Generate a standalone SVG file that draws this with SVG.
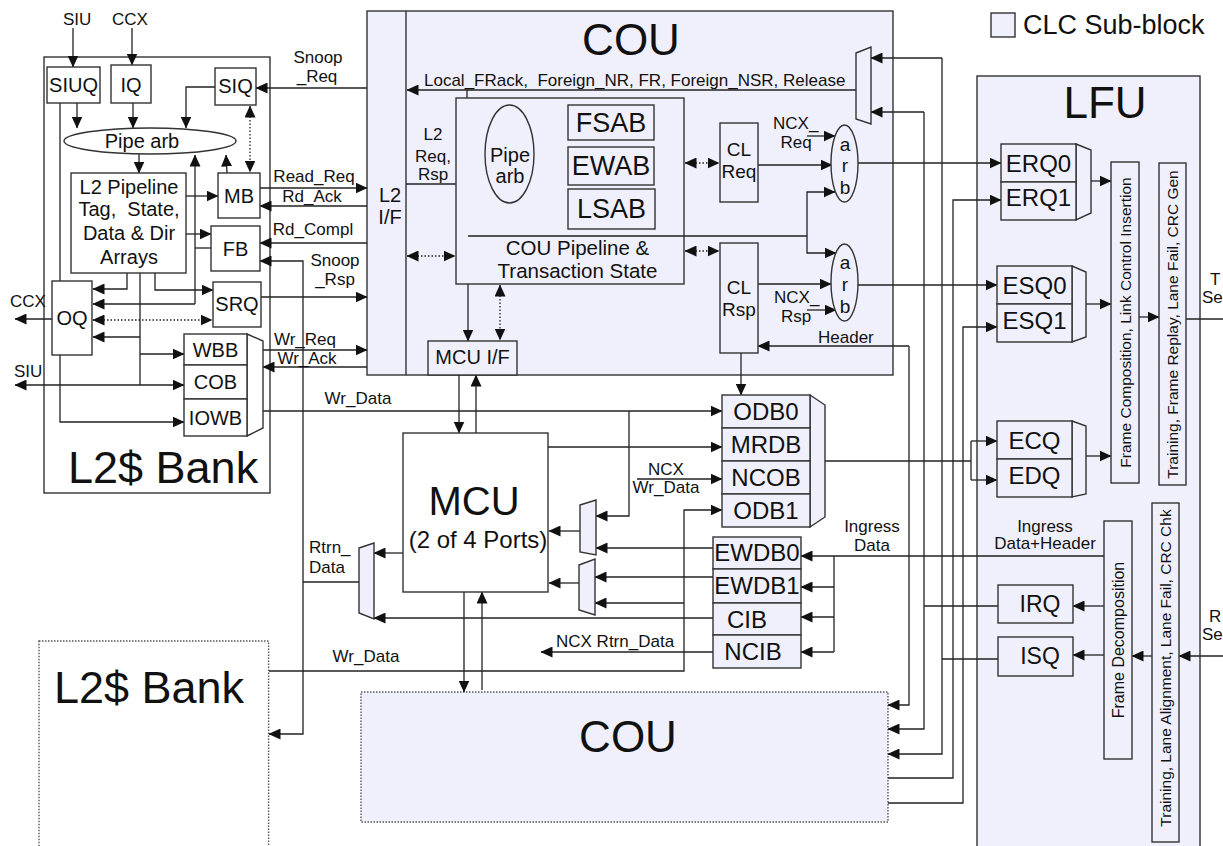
<svg xmlns="http://www.w3.org/2000/svg" width="1223" height="846" viewBox="0 0 1223 846">
<defs>
<style>
.b{fill:#fff;stroke:#333;stroke-width:1.4}
.l{fill:#f0f0fc;stroke:#333;stroke-width:1.4}
.dot{stroke-dasharray:1.5 1.5;stroke:#555}
.c{fill:none;stroke:#222;stroke-width:1.3}
.ar{marker-end:url(#a)}
.ab{marker-start:url(#a);marker-end:url(#a)}
.dt{stroke-dasharray:1.5 2}
text{font-family:"Liberation Sans",Arial,sans-serif;fill:#111}
.f17{font-size:17px}
.f19{font-size:19px}
.f20{font-size:20px}
.f24{font-size:24px}
.f27{font-size:27px}
.f44{font-size:44px}
.m{text-anchor:middle}
</style>
<marker id="a" viewBox="0 0 12 11" markerWidth="12" markerHeight="11" refX="11.5" refY="5.5" orient="auto-start-reverse" markerUnits="userSpaceOnUse"><path d="M0,0L12,5.5L0,11z" fill="#111"/></marker>
</defs>

<!-- containers -->
<g id="l2bank">
<rect class="b" x="44" y="57" width="226" height="436"/>
<text class="f44" x="68" y="483" style="font-size:45px">L2$ Bank</text>
</g>
<g id="l2bank2">
<rect class="b dot" x="39" y="641" width="229.6" height="230"/>
<text class="m" x="149" y="703" style="font-size:45px">L2$ Bank</text>
</g>
<g id="cou">
<rect class="l" x="367" y="11" width="526" height="364"/>
<line x1="406" y1="11" x2="406" y2="375" stroke="#333" stroke-width="1.4"/>
<text class="f44 m" x="631" y="55">COU</text>
<text class="f20 m" x="390" y="202">L2</text>
<text class="f20 m" x="390" y="224">I/F</text>
</g>
<g id="cou2">
<rect class="l dot" x="361" y="692" width="527" height="130"/>
<text class="f44 m" x="628" y="752">COU</text>
</g>
<g id="lfu">
<rect class="l" x="977" y="76" width="223" height="800"/>
<text class="f44 m" x="1105" y="118">LFU</text>
</g>
<g id="legend">
<rect class="l" x="991" y="13" width="24" height="24"/>
<text class="f27" x="1023" y="34">CLC Sub-block</text>
</g>

<!-- connectors -->
<g id="connectors" class="c">
<path class="ar" d="M73,28V67"/>
<path class="ar" d="M132,28V65"/>
<path class="ar" d="M77,103V128"/>
<path class="ar" d="M133,103V128"/>
<path class="ar" d="M215,87H186V128"/>
<path class="ab dt" d="M250,106V172"/>
<path class="ar" d="M227,173L226,155"/>
<path d="M211,248H195"/>
<path class="ar" d="M195,304V155"/>
<path class="ar" d="M195,304H93"/>
<path class="ar" d="M139,154V173"/>
<path class="ar" d="M186,196H218"/>
<path class="ar" d="M186,234H211"/>
<path class="ar" d="M127,273V289H93"/>
<path d="M140,273V385"/>
<path class="ar" d="M140,337H93"/>
<path class="ar" d="M140,354H184"/>
<path class="ar" d="M140,385H15"/>
<path class="ar" d="M140,385H184"/>
<path class="ar" d="M155,273V290H213"/>
<path d="M60,103V281"/>
<path class="ar" d="M60,355V422H184"/>
<path class="ar" d="M52,319H15"/>
<path class="ab dt" d="M93,320H212"/>
<path class="ar" d="M367,88H256"/>
<path class="ar" d="M260,188H367"/>
<path class="ar" d="M367,206H260"/>
<path class="ar" d="M367,243H260"/>
<path class="ar" d="M261,297H367"/>
<path class="ar" d="M263,350H367"/>
<path class="ar" d="M367,367H263"/>
<path class="ar" d="M263,411H722"/>
<path class="ar" d="M303,582V261H260"/>
<path class="ar" d="M303,582V734H269"/>
<path d="M359,582H303"/>
<!-- COU internal -->
<path class="ar" d="M856,90H407"/>
<path class="ar" d="M467,90V144H486"/>
<path class="ar" d="M406,184H490"/>
<path class="ar" d="M468,184V341"/>
<path d="M468,236H807"/>
<path class="ar" d="M807,236V192H835"/>
<path class="ar" d="M807,236V253H836"/>
<path class="ar" d="M534,163H568"/>
<path d="M541,118V209"/>
<path class="ar" d="M541,118H568"/>
<path class="ar" d="M541,209H568"/>
<path class="ab dt" d="M407,256H455"/>
<path class="ab dt" d="M500,285V340"/>
<path class="ab dt" d="M685,163H719"/>
<path class="ab dt" d="M685,251H719"/>
<path class="ar" d="M758,165H832"/>
<path class="ar" d="M807,136H835"/>
<path class="ar" d="M758,284H831"/>
<path class="ar" d="M807,310H836"/>
<path class="ar" d="M909,346H758"/>
<path class="ar" d="M741,353V395"/>
<path class="ar" d="M858,163H1001"/>
<path class="ar" d="M858,285H997"/>
<path class="ar" d="M942,58H871"/>
<path class="ar" d="M924,112H871"/>
<!-- bus -->
<path class="ar" d="M942,58V754H888"/>
<path d="M998,659H942"/>
<path class="ar" d="M924,112V729H888"/>
<path d="M998,606H924"/>
<path class="ar" d="M909,346V705H888"/>
<path class="ar" d="M888,778H953V200H1001"/>
<path class="ar" d="M888,803H963V327H997"/>
<path d="M825,461H971"/>
<path d="M971,441V480"/>
<path class="ar" d="M971,441H997"/>
<path class="ar" d="M971,480H997"/>
<path class="ar" d="M1104,556H801"/>
<path d="M834,556V652"/>
<path class="ar" d="M834,587H801"/>
<path class="ar" d="M834,617H801"/>
<path class="ar" d="M834,652H801"/>
<!-- LFU -->
<path class="ar" d="M1091,181H1111"/>
<path class="ar" d="M1086,304H1111"/>
<path class="ar" d="M1086,456H1111"/>
<path class="ar" d="M1139,317H1159"/>
<path d="M1186,319H1223"/>
<path class="ar" d="M1223,656H1179"/>
<path class="ar" d="M1152,656H1132"/>
<path class="ar" d="M1104,606H1073"/>
<path class="ar" d="M1104,655H1073"/>
<!-- MCU area -->
<path class="ar" d="M459,375V433"/>
<path class="ar" d="M476,433V375"/>
<path class="ar" d="M548,447H722"/>
<path class="ar" d="M637,479H722"/>
<path class="ar" d="M629,411V516H596"/>
<path class="ar" d="M713,548H596"/>
<path class="ar" d="M580,531H549"/>
<path class="ar" d="M713,577H595"/>
<path class="ar" d="M684,603H595"/>
<path class="ar" d="M579,583H549"/>
<path class="ar" d="M403,553H374"/>
<path class="ar" d="M713,618H374"/>
<path class="ar" d="M713,652H541"/>
<path class="ar" d="M269,671H684V510H722"/>
<path class="ar" d="M464,592V692"/>
<path class="ar" d="M482,690V592"/>
</g>

<!-- labels -->
<g id="labels" class="f17">
<text x="63" y="25">SIU</text>
<text x="112" y="25">CCX</text>
<text x="10" y="307">CCX</text>
<text x="14" y="377">SIU</text>
<text class="m" x="318" y="63">Snoop</text>
<text class="m" x="317" y="82">_Req</text>
<text class="m" x="314" y="182">Read_Req</text>
<text class="m" x="312" y="202">Rd_Ack</text>
<text class="m" x="313" y="235">Rd_Compl</text>
<text class="m" x="335" y="266">Snoop</text>
<text class="m" x="335" y="285">_Rsp</text>
<text class="m" x="305" y="345">Wr_Req</text>
<text class="m" x="307" y="364">Wr_Ack</text>
<text class="m" x="358" y="404">Wr_Data</text>
<text x="424" y="86" xml:space="preserve">Local_FRack,  Foreign_NR, FR, Foreign_NSR, Release</text>
<text class="m" x="433" y="140">L2</text>
<text class="m" x="433" y="162">Req,</text>
<text class="m" x="433" y="180">Rsp</text>
<text x="773" y="129">NCX_</text>
<text class="m" x="796" y="148">Req</text>
<text x="774" y="303">NCX_</text>
<text class="m" x="796" y="322">Rsp</text>
<text x="818" y="343">Header</text>
<text class="m" x="666" y="475">NCX</text>
<text class="m" x="666" y="493">Wr_Data</text>
<text x="309" y="553">Rtrn_</text>
<text x="309" y="573">Data</text>
<text class="m" x="872" y="532">Ingress</text>
<text class="m" x="872" y="551">Data</text>
<text x="556" y="647">NCX Rtrn_Data</text>
<text class="m" x="366" y="662">Wr_Data</text>
<text class="m" x="1045" y="532">Ingress</text>
<text class="m" x="1045" y="549">Data+Header</text>
<text x="1210" y="285">T</text>
<text x="1202" y="303">Se</text>
<text x="1209" y="622">R</text>
<text x="1202" y="640">Se</text>
</g>

<!-- L2 bank nodes -->
<g id="siuq"><rect class="b" x="47" y="67" width="53" height="36"/><text class="f20 m" x="73.5" y="92">SIUQ</text></g>
<g id="iq"><rect class="b" x="111" y="65" width="40" height="38"/><text class="f20 m" x="131" y="92">IQ</text></g>
<g id="siq"><rect class="b" x="215" y="68" width="41" height="37"/><text class="f20 m" x="235.5" y="93">SIQ</text></g>
<g id="pipearb1"><ellipse class="b" cx="150" cy="141" rx="86" ry="13"/><text class="f20 m" x="142" y="148">Pipe arb</text></g>
<g id="l2pipe"><rect class="b" x="71" y="173" width="115" height="100"/>
<text class="f20 m" x="129" y="194">L2 Pipeline</text>
<text class="f20 m" x="129" y="216" xml:space="preserve">Tag,  State,</text>
<text class="f20 m" x="129" y="240">Data &amp; Dir</text>
<text class="f20 m" x="129" y="264">Arrays</text></g>
<g id="mb"><rect class="b" x="218" y="173" width="42" height="45"/><text class="f20 m" x="239" y="203">MB</text></g>
<g id="fb"><rect class="b" x="211" y="226" width="49" height="45"/><text class="f20 m" x="235.5" y="256">FB</text></g>
<g id="srq"><rect class="b" x="213" y="282" width="48" height="45"/><text class="f20 m" x="237" y="311">SRQ</text></g>
<g id="oq"><rect class="b" x="52" y="281" width="40" height="74"/><text class="f20 m" x="72" y="325">OQ</text></g>
<g id="wbbstack">
<polygon class="b" points="247,334 263,341 263,428 247,436"/>
<rect class="b" x="184" y="334" width="63" height="31"/><text class="f20 m" x="215.5" y="357">WBB</text>
<rect class="b" x="184" y="365" width="63" height="34"/><text class="f20 m" x="215.5" y="389">COB</text>
<rect class="b" x="184" y="399" width="63" height="37"/><text class="f20 m" x="215.5" y="425">IOWB</text>
</g>

<!-- COU nodes -->
<g id="coupipe"><rect class="l" x="456" y="98" width="228" height="186"/>
<text class="m" x="577.5" y="255" style="font-size:20.5px">COU Pipeline &amp;</text>
<text class="m" x="577.5" y="278" style="font-size:20.5px">Transaction State</text></g>
<line x1="468" y1="236" x2="684" y2="236" stroke="#222" stroke-width="1.3"/>
<g id="pipearb2"><ellipse class="l" cx="509.5" cy="154" rx="24.5" ry="49"/><text class="f20 m" x="510" y="162">Pipe</text><text class="f20 m" x="510" y="183">arb</text></g>
<g id="fsab"><rect class="l" x="568" y="105" width="86" height="35"/><text class="m" x="611" y="132" style="font-size:27px">FSAB</text></g>
<g id="ewab"><rect class="l" x="568" y="147" width="86" height="38"/><text class="m" x="611" y="175" style="font-size:27px">EWAB</text></g>
<g id="lsab"><rect class="l" x="568" y="189" width="87" height="40"/><text class="m" x="611.5" y="218" style="font-size:27px">LSAB</text></g>
<g id="mcuif"><rect class="l" x="428" y="341" width="89" height="34"/><text class="f20 m" x="472.5" y="364">MCU I/F</text></g>
<g id="clreq"><rect class="l" x="720" y="123" width="38" height="79"/><text class="f19 m" x="739" y="156">CL</text><text class="f19 m" x="739" y="178">Req</text></g>
<g id="clrsp"><rect class="l" x="720" y="243" width="38" height="110"/><text class="f19 m" x="739" y="294">CL</text><text class="f19 m" x="739" y="316">Rsp</text></g>
<g id="arb1"><ellipse class="l" cx="844.5" cy="163.5" rx="13.5" ry="38.5"/><text class="f19 m" x="845" y="151">a</text><text class="f19 m" x="845" y="172">r</text><text class="f19 m" x="845" y="194">b</text></g>
<g id="arb2"><ellipse class="l" cx="844.5" cy="282.5" rx="13.5" ry="38.5"/><text class="f19 m" x="845" y="269">a</text><text class="f19 m" x="845" y="291">r</text><text class="f19 m" x="845" y="313">b</text></g>
<g id="coumux"><polygon class="l" points="856,53 871,47 871,124 856,119"/></g>

<!-- MCU area nodes -->
<g id="mcu"><rect class="b" x="403" y="433" width="145" height="159"/>
<text class="m" x="474" y="515" style="font-size:40px">MCU</text>
<text class="f24 m" x="478" y="548">(2 of 4 Ports)</text></g>
<g id="mux1"><polygon class="l" points="580,505 596,500 596,555 580,552"/></g>
<g id="mux2"><polygon class="l" points="579,565 595,559 595,615 579,610"/></g>
<g id="rtrnmux"><polygon class="l" points="359,548 374,543 374,619 359,613"/></g>
<g id="odbstack">
<polygon class="l" points="810,395 825,405 825,517 810,527"/>
<rect class="l" x="722" y="395" width="88" height="33"/><text class="f24 m" x="766" y="420">ODB0</text>
<rect class="l" x="722" y="428" width="88" height="33"/><text class="f24 m" x="766" y="453">MRDB</text>
<rect class="l" x="722" y="461" width="88" height="33"/><text class="f24 m" x="766" y="486">NCOB</text>
<rect class="l" x="722" y="494" width="88" height="33"/><text class="f24 m" x="766" y="519">ODB1</text>
</g>
<g id="ewdbstack">
<rect class="l" x="713" y="537" width="88" height="32"/><text class="f24 m" x="757" y="561">EWDB0</text>
<rect class="l" x="713" y="569" width="88" height="34"/><text class="f24 m" x="757" y="594">EWDB1</text>
<rect class="l" x="713" y="603" width="88" height="32"/><text class="f24 m" x="747" y="628">CIB</text>
<rect class="l" x="713" y="635" width="88" height="33"/><text class="f24 m" x="753" y="660">NCIB</text>
</g>

<!-- LFU nodes -->
<g id="erq">
<polygon class="l" points="1076,144 1091,150 1091,213 1076,220"/>
<rect class="l" x="1001" y="144" width="75" height="38"/><text class="f24 m" x="1038.5" y="172">ERQ0</text>
<rect class="l" x="1001" y="182" width="75" height="38"/><text class="f24 m" x="1038.5" y="206">ERQ1</text>
</g>
<g id="esq">
<polygon class="l" points="1072,266 1086,272 1086,337 1072,342"/>
<rect class="l" x="997" y="266" width="75" height="38"/><text class="f24 m" x="1034.5" y="294">ESQ0</text>
<rect class="l" x="997" y="304" width="75" height="38"/><text class="f24 m" x="1034.5" y="329">ESQ1</text>
</g>
<g id="ecq">
<polygon class="l" points="1072,421 1086,426 1086,494 1072,497"/>
<rect class="l" x="997" y="421" width="75" height="38"/><text class="f24 m" x="1034.5" y="449">ECQ</text>
<rect class="l" x="997" y="459" width="75" height="38"/><text class="f24 m" x="1034.5" y="484">EDQ</text>
</g>
<g id="framecomp"><rect class="l" x="1111" y="162" width="28" height="321"/>
<text class="m" transform="translate(1130.5,322.5) rotate(-90)" style="font-size:15.5px">Frame Composition, Link Control Insertion</text></g>
<g id="txtrain"><rect class="l" x="1159" y="163" width="27" height="322"/>
<text class="m" transform="translate(1178,324.5) rotate(-90)" style="font-size:15.5px">Training, Frame Replay, Lane Fail, CRC Gen</text></g>
<g id="framedec"><rect class="l" x="1104" y="521" width="28" height="238"/>
<text class="m" transform="translate(1124,640) rotate(-90)" style="font-size:16px">Frame Decomposition</text></g>
<g id="rxtrain"><rect class="l" x="1152" y="503" width="27" height="339"/>
<text class="m" transform="translate(1171,668) rotate(-90)" style="font-size:15.5px">Training, Lane Alignment, Lane Fail, CRC Chk</text></g>
<g id="irq"><rect class="l" x="998" y="585" width="75" height="38"/><text class="m" x="1040" y="612" style="font-size:23px">IRQ</text></g>
<g id="isq"><rect class="l" x="998" y="637" width="75" height="39"/><text class="m" x="1040" y="664" style="font-size:23px">ISQ</text></g>
</svg>
